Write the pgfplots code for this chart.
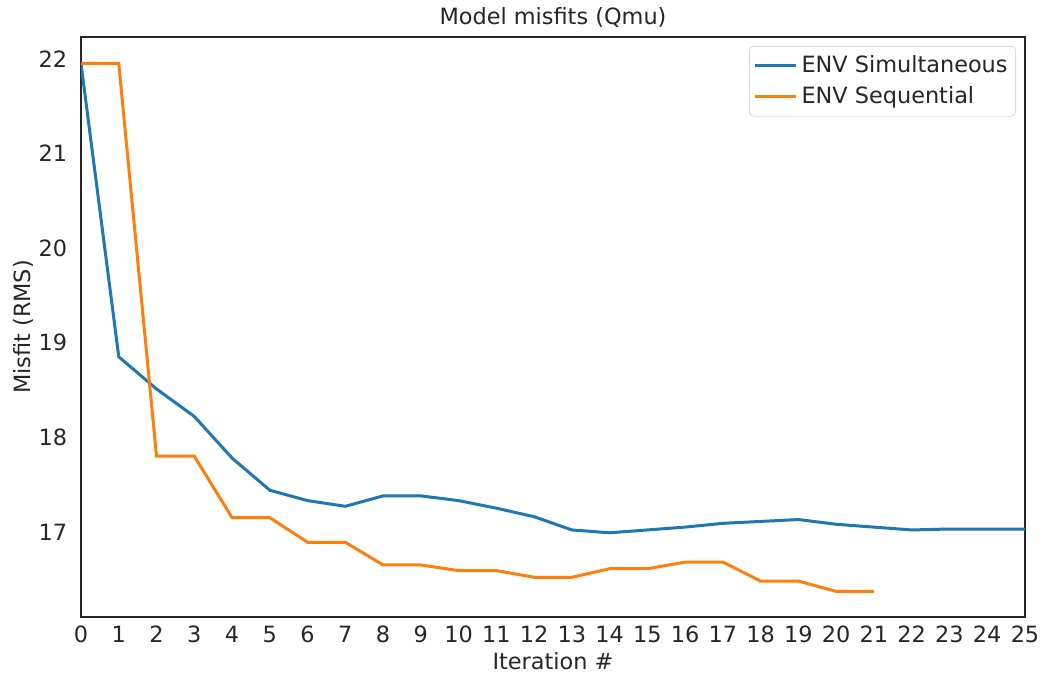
\documentclass[border=0pt]{standalone}
\usepackage{pgfplots}
\pgfplotsset{compat=1.18}
\usepackage{fontspec}
\setmainfont{DejaVu Sans}
\definecolor{c0}{HTML}{1F77B4}
\definecolor{c1}{HTML}{FF7F0E}
\definecolor{axc}{HTML}{262626}
\begin{document}
\fontsize{11.2}{13}\selectfont
\begin{tikzpicture}
\begin{axis}[
  name=ax,
  scale only axis,
  width=472pt, height=290pt,
  xmin=0, xmax=25, ymin=16.1, ymax=22.23,
  xtick={0,...,25}, ytick={17,18,19,20,21,22},
  major tick length=0pt,
  axis line style={axc, line width=0.9pt},
  tick label style={text=axc, font=\fontsize{11.2}{13}\selectfont},
  /pgf/number format/assume math mode=true,
  xticklabel style={yshift=-0.5pt},
  yticklabel style={xshift=-3pt},
  title={Model misfits (Qmu)},
  title style={text=axc, yshift=-5pt, font=\fontsize{11.2}{13}\selectfont},
  xlabel={Iteration \#},
  ylabel={Misfit (RMS)},
  label style={text=axc, font=\fontsize{11.2}{13}\selectfont},
  xlabel style={yshift=3pt},
  ylabel style={yshift=-5pt},
  legend style={at={(rel axis cs:1,1)}, anchor=north east, xshift=-4.5pt, yshift=-4.5pt,
    draw=black!15, rounded corners=2pt, text=axc, font=\fontsize{11.2}{13}\selectfont,
    inner xsep=2pt, inner ysep=2.5pt, row sep=1.5pt},
  legend cell align=left,
  legend image code/.code={\draw[#1] (0cm,0cm) -- (0.72cm,0cm);},
]
\addplot[c0, line width=1.5pt] coordinates {
(0,21.95) (1,18.85) (2,18.51) (3,18.22) (4,17.78) (5,17.44) (6,17.33) (7,17.27)
(8,17.38) (9,17.38) (10,17.33) (11,17.25) (12,17.16) (13,17.02) (14,16.99)
(15,17.02) (16,17.05) (17,17.09) (18,17.11) (19,17.13) (20,17.08) (21,17.05)
(22,17.02) (23,17.03) (24,17.03) (25,17.03)};
\addlegendentry{ENV Simultaneous}
\addplot[c1, line width=1.5pt] coordinates {
(0,21.95) (1,21.95) (2,17.80) (3,17.80) (4,17.15) (5,17.15) (6,16.89) (7,16.89)
(8,16.65) (9,16.65) (10,16.59) (11,16.59) (12,16.52) (13,16.52) (14,16.61)
(15,16.61) (16,16.68) (17,16.68) (18,16.48) (19,16.48) (20,16.37) (21,16.37)};
\addlegendentry{ENV Sequential}
\end{axis}
\pgfresetboundingbox
\path ([shift={(-40.5pt,-31.5pt)}]ax.south west) rectangle ([shift={(9.5pt,18.5pt)}]ax.north east);
\end{tikzpicture}
\end{document}
